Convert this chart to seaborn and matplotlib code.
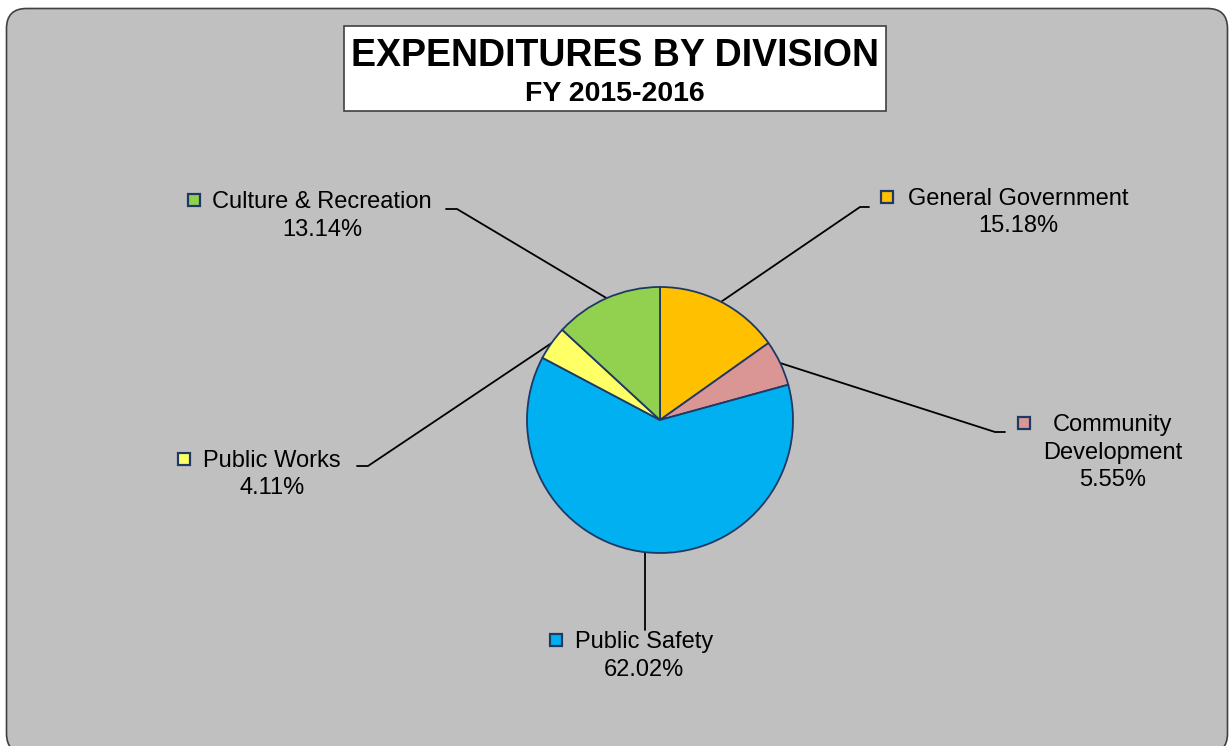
import numpy as np
import matplotlib
matplotlib.use("Agg")
import matplotlib.pyplot as plt
from matplotlib.patches import FancyBboxPatch, Rectangle
import seaborn as sns

# Division shares of total expenditures, FY 2015-2016 (clockwise from 12 o'clock)
divisions = ["General Government", "Community Development", "Public Safety",
             "Public Works", "Culture & Recreation"]
label_lines = [["General Government"], ["Community", "Development"], ["Public Safety"],
               ["Public Works"], ["Culture & Recreation"]]
shares = [15.18, 5.55, 62.02, 4.11, 13.14]
colors = ["#FFC000", "#DA9694", "#00B0F0", "#FFFF66", "#92D050"]

sns.set_theme(style="white")
plt.rcParams["font.family"] = ["Liberation Sans", "DejaVu Sans"]

W, H = 1229, 746
fig = plt.figure(figsize=(W / 100, H / 100), dpi=100)
fig.patch.set_facecolor("white")
ax = fig.add_axes([0, 0, 1, 1])


def Y(y):
    """Convert a top-down pixel row to the axes' bottom-up y coordinate."""
    return H - y


# chart area: grey rounded panel
ax.add_patch(FancyBboxPatch((6.5, Y(753.5)), 1221, 745, boxstyle="round,pad=0,rounding_size=20",
                            facecolor="#C0C0C0", edgecolor="#404040", linewidth=1.2, zorder=0))

# title box
ax.add_patch(Rectangle((344, Y(111)), 542, 85, facecolor="white", edgecolor="#404040",
                       linewidth=1.2, zorder=1))
ax.text(615, Y(56), "EXPENDITURES BY DIVISION", ha="center", va="center",
        fontsize=27, fontweight="bold", color="black", zorder=2)
ax.text(615, Y(94), "FY 2015-2016", ha="center", va="center",
        fontsize=20.5, fontweight="bold", color="black", zorder=2)

# pie
cx, cy, r = 660, Y(420), 133
wedges, _ = ax.pie(shares, colors=colors, startangle=90, counterclock=False,
                   center=(cx, cy), radius=r, frame=True,
                   wedgeprops=dict(edgecolor="#1F3864", linewidth=1.3, zorder=3))
ax.set_xlim(0, W)
ax.set_ylim(0, H)
ax.set_aspect("equal")
ax.axis("off")

# label placement: text centre x, first line row, marker x, elbow point, end of horizontal tick
layout = {
    "General Government": dict(tx=1018, ty=199, mx=887, my=197, elbow=(860, 207), tick=869),
    "Community Development": dict(tx=1113, ty=425, mx=1024, my=423, elbow=(995, 432), tick=1005),
    "Public Safety": dict(tx=644, ty=642, mx=556, my=640, elbow=None, tick=None, bottom=630),
    "Public Works": dict(tx=272, ty=461, mx=184, my=459, elbow=(368, 466), tick=357),
    "Culture & Recreation": dict(tx=322, ty=202, mx=194, my=200, elbow=(457, 209), tick=446),
}

line_gap = 27.5
fs = 17
for w, name, lines, val, col in zip(wedges, divisions, label_lines, shares, colors):
    mid = np.deg2rad((w.theta1 + w.theta2) / 2)
    px, py = w.center[0] + w.r * np.cos(mid), w.center[1] + w.r * np.sin(mid)
    L = layout[name]
    if L["elbow"] is not None:
        ex, ey = L["elbow"]
        ax.plot([px, ex, L["tick"]], [py, Y(ey), Y(ey)], color="black", lw=1.3, zorder=2,
                solid_joinstyle="miter")
    else:
        ax.plot([px, px], [py, Y(L["bottom"])], color="black", lw=1.3, zorder=2)
    for i, t in enumerate(lines):
        ax.text(L["tx"], Y(L["ty"] + i * line_gap), t, ha="center", va="center",
                fontsize=fs, color="black", zorder=4)
    ax.text(L["tx"], Y(L["ty"] + len(lines) * line_gap), f"{val:.2f}%", ha="center",
            va="center", fontsize=fs, color="black", zorder=4)
    ax.add_patch(Rectangle((L["mx"] - 6, Y(L["my"] + 6)), 12, 12, facecolor=col,
                           edgecolor="#1F3864", linewidth=1.6, zorder=4))

fig.savefig("out.png", dpi=100, facecolor="white")
